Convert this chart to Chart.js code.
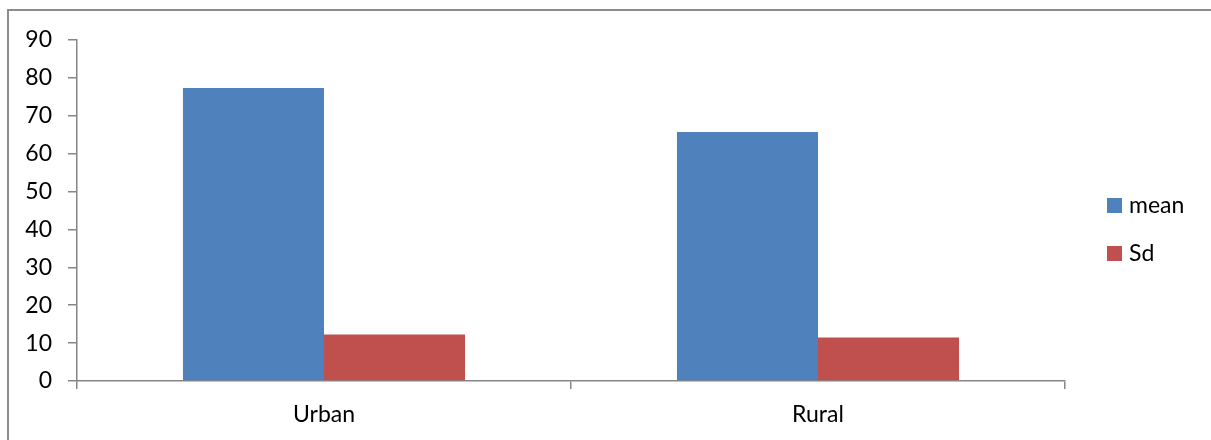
<!DOCTYPE html>
<html>
<head>
<meta charset="utf-8">
<script src="https://cdn.jsdelivr.net/npm/chart.js@4/dist/chart.umd.min.js"></script>
<style>
  html, body { margin: 0; padding: 0; background: #fff; overflow: hidden; }
  #wrap { position: relative; width: 1211px; height: 440px; }
  #frame { position: absolute; left: 7px; top: 9px; width: 1300px; height: 500px;
           border: 2px solid #8c8c8c; box-sizing: border-box; pointer-events: none; }
  canvas { position: absolute; left: 0; top: 0; }
</style>
</head>
<body>
<div id="wrap">
  <canvas id="chart" width="1211" height="440"></canvas>
  <div id="frame"></div>
</div>
<script>
// Categories and series
const categories = ['Urban', 'Rural'];
const meanValues = [77.3, 65.7];
const sdValues = [12.3, 11.5];
const seriesNames = ['mean', 'Sd'];
const yTicks = [0, 10, 20, 30, 40, 50, 60, 70, 80, 90];

const FONT = 'Lato, "Open Sans", sans-serif';
const AXIS_GREY = '#868686';

// Legend drawn at the right of the plot, one square + label per dataset
const sideLegend = {
  id: 'sideLegend',
  afterDraw(chart) {
    const ctx = chart.ctx;
    const x0 = 1107, y0 = 198, gap = 48, box = 15;
    ctx.save();
    ctx.font = '23px ' + FONT;
    ctx.textBaseline = 'middle';
    ctx.textAlign = 'left';
    chart.data.datasets.forEach((ds, i) => {
      const y = y0 + i * gap;
      ctx.fillStyle = ds.backgroundColor;
      ctx.fillRect(x0, y, box, box);
      ctx.fillStyle = '#000';
      ctx.fillText(ds.label, x0 + box + 7, y + box / 2);
    });
    ctx.restore();
  }
};

new Chart(document.getElementById('chart'), {
  type: 'bar',
  data: {
    labels: categories,
    datasets: [
      { label: seriesNames[0], data: meanValues, backgroundColor: '#4F81BD' },
      { label: seriesNames[1], data: sdValues, backgroundColor: '#C0504D' }
    ]
  },
  options: {
    responsive: false,
    animation: false,
    devicePixelRatio: 1,
    layout: { padding: { top: 40, right: 146, left: 0, bottom: 0 } },
    datasets: { bar: { barPercentage: 1, categoryPercentage: 0.571, borderWidth: 0 } },
    plugins: { legend: { display: false }, tooltip: { enabled: false } },
    scales: {
      x: {
        grid: { display: true, drawOnChartArea: false, offset: true,
                color: AXIS_GREY, lineWidth: 1.5, tickLength: 8 },
        border: { color: AXIS_GREY, width: 1.5 },
        ticks: { color: '#000', font: { family: FONT, size: 23 }, padding: 12 },
        afterFit(scale) { scale.height = 59; }
      },
      y: {
        min: 0, max: 90,
        afterBuildTicks(scale) { scale.ticks = yTicks.map(v => ({ value: v })); },
        grid: { display: true, drawOnChartArea: false,
                color: AXIS_GREY, lineWidth: 1.5, tickLength: 9 },
        border: { color: AXIS_GREY, width: 1.5 },
        ticks: { color: '#000', font: { family: FONT, size: 23 }, padding: 16 },
        afterFit(scale) { scale.width = 77; }
      }
    }
  },
  plugins: [sideLegend]
});
</script>
</body>
</html>
